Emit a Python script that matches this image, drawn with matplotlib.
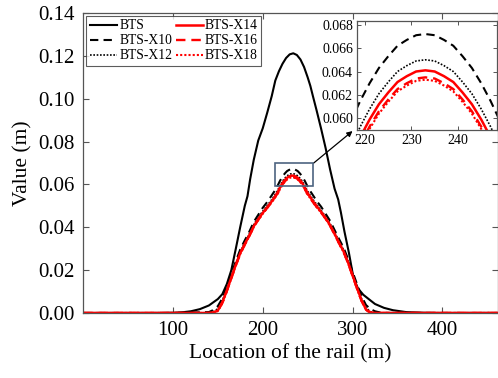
import matplotlib
matplotlib.use("Agg")
import matplotlib.pyplot as plt
from matplotlib.patches import Rectangle

plt.rcParams['font.family'] = ['Liberation Serif', 'DejaVu Serif']
plt.rcParams['mathtext.fontset'] = 'stix'

# ---------------- data ----------------
x_bts = [0, 80, 100, 110, 120, 130, 140, 150, 155, 160, 165, 170, 175, 180, 183, 186,
         190, 195, 200, 205, 210, 214, 218, 222, 226, 230, 234, 238, 242, 246, 250,
         253, 256, 260, 265, 270, 275, 280, 284, 287, 291, 296, 301, 306, 312, 318,
         325, 335, 345, 360, 380, 400, 462]
bts = [0, 0, 0.0001, 0.0003, 0.0008, 0.0018, 0.0035, 0.0065, 0.0088, 0.0135, 0.0200,
       0.0300, 0.0403, 0.0500, 0.0545, 0.0625, 0.0715, 0.0805, 0.0862, 0.0935, 0.1012,
       0.1085, 0.1128, 0.1163, 0.1190, 0.1207, 0.1212, 0.1204, 0.1183, 0.1148, 0.1100,
       0.1060, 0.1010, 0.0945, 0.0860, 0.0770, 0.0670, 0.0580, 0.0530, 0.0470, 0.0380,
       0.0280, 0.0165, 0.0115, 0.0085, 0.0065, 0.0042, 0.0024, 0.0013, 0.0004, 0.0001,
       0, 0]

x_pos = [0, 100, 140, 145, 150, 155, 160, 165, 170, 175, 180, 185, 190, 195, 200, 205,
         210, 213, 215, 217, 219, 221, 223, 225, 227, 229, 231, 233, 235, 237, 239, 241,
         243, 245, 247, 249, 251, 253, 256, 260, 265, 270, 275, 280, 285, 290, 295, 300,
         305, 310, 315, 320, 325, 330, 335, 340, 360, 462]

bts_x10 = [0, 0, 0.0004, 0.0014, 0.0032, 0.0068, 0.0121, 0.0181, 0.0241, 0.0297, 0.0339,
           0.0379, 0.0425, 0.0458, 0.0491, 0.0518, 0.0549, 0.0568, 0.0581, 0.0598, 0.0615,
           0.0630, 0.0643, 0.0653, 0.0662, 0.0667, 0.0671, 0.0672, 0.0671, 0.0667, 0.0662,
           0.0653, 0.0643, 0.0630, 0.0615, 0.0598, 0.0581, 0.0568, 0.0549, 0.0523, 0.0496,
           0.0463, 0.0430, 0.0387, 0.0345, 0.0305, 0.0252, 0.0193, 0.0134, 0.0078, 0.0037,
           0.0018, 0.0008, 0.0003, 0.0001, 0, 0, 0]
bts_x12 = [0, 0, 0.0001, 0.0006, 0.0020, 0.0058, 0.0112, 0.0172, 0.0232, 0.0287, 0.0329,
           0.0369, 0.0412, 0.0446, 0.0475, 0.0502, 0.0529, 0.0548, 0.0561, 0.0576, 0.0593,
           0.0608, 0.0621, 0.0631, 0.0640, 0.0645, 0.0649, 0.0650, 0.0649, 0.0645, 0.0640,
           0.0631, 0.0621, 0.0608, 0.0593, 0.0576, 0.0561, 0.0548, 0.0529, 0.0507, 0.0479,
           0.0450, 0.0417, 0.0377, 0.0335, 0.0295, 0.0243, 0.0184, 0.0124, 0.0067, 0.0024,
           0.0006, 0.0001, 0, 0, 0, 0, 0]
bts_x14 = [0, 0, 0, 0.0002, 0.0012, 0.0050, 0.0105, 0.0165, 0.0225, 0.0280, 0.0322,
           0.0362, 0.0405, 0.0438, 0.0467, 0.0494, 0.0521, 0.0540, 0.0553, 0.0567, 0.0584,
           0.0599, 0.0612, 0.0622, 0.0631, 0.0636, 0.0640, 0.0641, 0.0640, 0.0636, 0.0631,
           0.0622, 0.0612, 0.0599, 0.0584, 0.0567, 0.0553, 0.0540, 0.0521, 0.0499, 0.0472,
           0.0443, 0.0410, 0.0370, 0.0328, 0.0288, 0.0236, 0.0177, 0.0117, 0.0060, 0.0017,
           0.0002, 0, 0, 0, 0, 0, 0]
bts_x16 = [0, 0, 0, 0.0001, 0.0010, 0.0047, 0.0102, 0.0162, 0.0222, 0.0277, 0.0319,
           0.0359, 0.0402, 0.0435, 0.0464, 0.0491, 0.0517, 0.0536, 0.0549, 0.0561, 0.0578,
           0.0593, 0.0606, 0.0616, 0.0625, 0.0630, 0.0634, 0.0635, 0.0634, 0.0630, 0.0625,
           0.0616, 0.0606, 0.0593, 0.0578, 0.0561, 0.0549, 0.0536, 0.0517, 0.0495, 0.0469,
           0.0440, 0.0407, 0.0367, 0.0325, 0.0285, 0.0233, 0.0174, 0.0114, 0.0057, 0.0015,
           0.0001, 0, 0, 0, 0, 0, 0]
bts_x18 = [0, 0, 0, 0.0001, 0.0009, 0.0046, 0.0101, 0.0161, 0.0221, 0.0276, 0.0318,
           0.0358, 0.0401, 0.0434, 0.0463, 0.0490, 0.0516, 0.0534, 0.0547, 0.0559, 0.0576,
           0.0591, 0.0604, 0.0614, 0.0623, 0.0628, 0.0632, 0.0633, 0.0632, 0.0628, 0.0623,
           0.0614, 0.0604, 0.0591, 0.0576, 0.0559, 0.0547, 0.0534, 0.0516, 0.0494, 0.0468,
           0.0439, 0.0406, 0.0366, 0.0324, 0.0284, 0.0232, 0.0173, 0.0113, 0.0056, 0.0014,
           0.0001, 0, 0, 0, 0, 0, 0]

labels = ['BTS', 'BTS-X10', 'BTS-X12', 'BTS-X14', 'BTS-X16', 'BTS-X18']
main_xticks = [100, 200, 300, 400]
main_yticks = [0.00, 0.02, 0.04, 0.06, 0.08, 0.10, 0.12, 0.14]
inset_xticks = [220, 230, 240]
inset_yticks = [0.060, 0.062, 0.064, 0.066, 0.068]

# ---------------- figure ----------------
fig = plt.figure(figsize=(4.98, 3.78), dpi=100)
ax = fig.add_axes([0.167, 0.172, 0.833, 0.7936])

styles = [
    (x_bts, bts, dict(color='black', ls='-', lw=1.5)),
    (x_pos, bts_x10, dict(color='black', ls=(0, (4, 2.5)), lw=1.5)),
    (x_pos, bts_x12, dict(color='black', ls=(0, (1, 1)), lw=1.2)),
    (x_pos, bts_x14, dict(color='red', ls='-', lw=1.8)),
    (x_pos, bts_x16, dict(color='red', ls=(0, (4, 2.5)), lw=1.7)),
    (x_pos, bts_x18, dict(color='red', ls=(0, (1, 1)), lw=1.5)),
]
for (xs, ys, st), lab in zip(styles, labels):
    ax.plot(xs, ys, label=lab, **st)

ax.set_xlim(0, 462)
ax.set_ylim(0, 0.14)
ax.set_xticks(main_xticks)
ax.set_yticks(main_yticks)
ax.set_yticklabels([f'{v:.2f}' for v in main_yticks])
ax.tick_params(direction='in', top=True, right=True, labelsize=15, length=4,
               width=0.8, color='#555555', pad=6)
for s in ax.spines.values():
    s.set_color('#555555')
    s.set_linewidth(0.9)
ax.set_xlabel('Location of the rail (m)', fontsize=15.5, labelpad=3)
ax.set_ylabel('Value (m)', fontsize=15.5, labelpad=4)

leg = ax.legend(ncol=2, loc='upper left', bbox_to_anchor=(0.008, 0.99),
                fontsize=9.8, frameon=True, fancybox=False, edgecolor='#333333',
                handlelength=2.0, handletextpad=0.15, columnspacing=0.25,
                labelspacing=0.15, borderpad=0.25, borderaxespad=0.0)
leg.get_frame().set_linewidth(0.8)

# zoom box
ax.add_patch(Rectangle((214, 0.0593), 42, 0.0106, fill=False,
                       edgecolor='#4d6480', lw=1.2, zorder=5))
ax.annotate('', xy=(300, 0.0849), xytext=(256.5, 0.0699),
            arrowprops=dict(arrowstyle='-|>', color='black', lw=0.9,
                            mutation_scale=8, shrinkA=0, shrinkB=0))

# inset
axi = fig.add_axes([0.717, 0.656, 0.281, 0.288])
for (xs, ys, st) in styles:
    axi.plot(xs, ys, **st)
axi.set_xlim(218.3, 248.4)
axi.set_ylim(0.059, 0.0683)
axi.set_xticks(inset_xticks)
axi.set_yticks(inset_yticks)
axi.set_yticklabels([f'{v:.3f}' for v in inset_yticks])
axi.tick_params(direction='in', top=True, right=True, labelsize=10, length=3,
                width=0.7, color='#555555', pad=3)
for s in axi.spines.values():
    s.set_color('#555555')
    s.set_linewidth(0.9)

fig.savefig('out.png', dpi=100)
